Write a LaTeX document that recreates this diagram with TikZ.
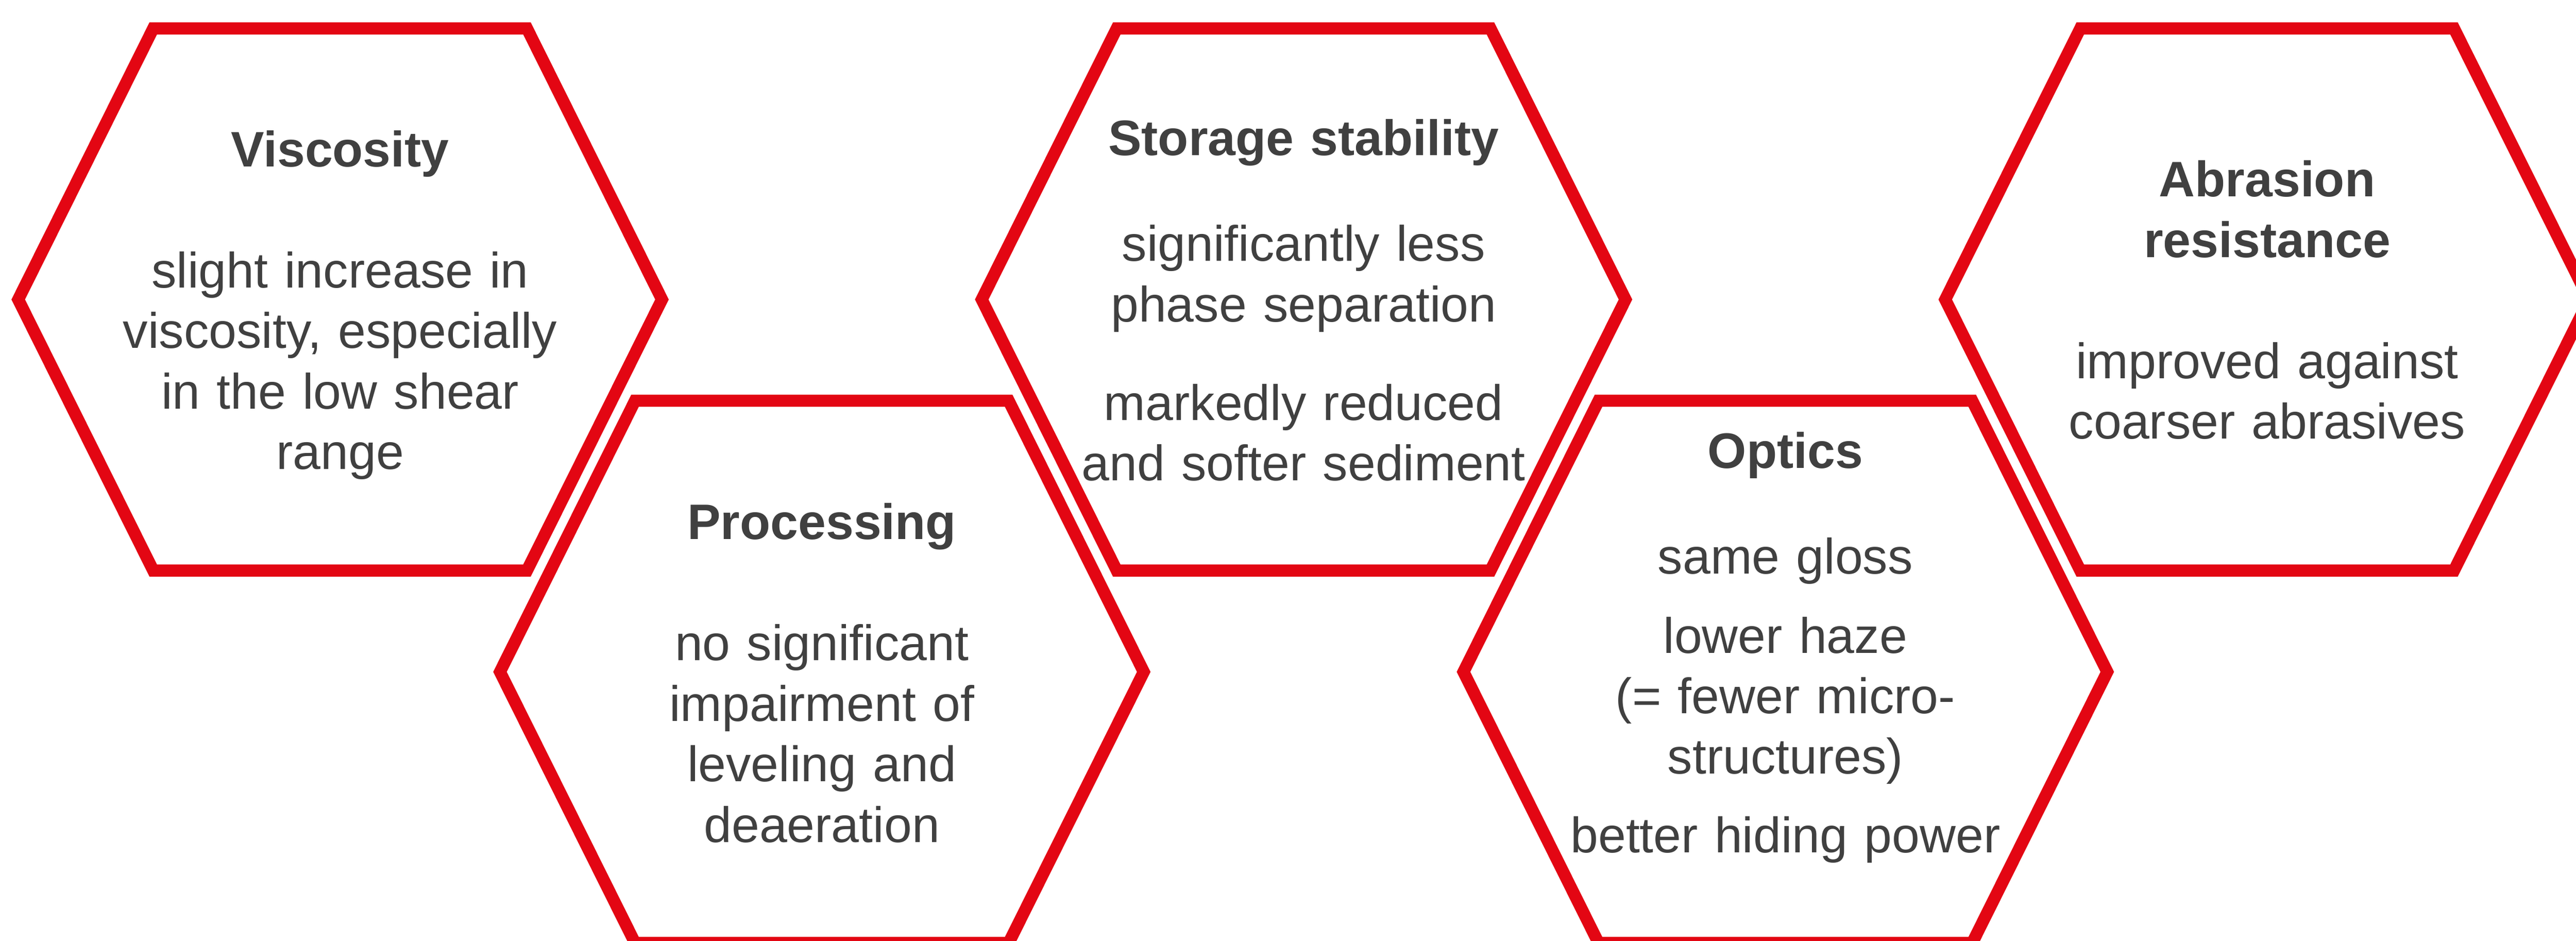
\documentclass[tikz,border=0pt]{standalone}
\usepackage{fontspec}
\setmainfont{Liberation Sans}
\usetikzlibrary{calc}
\definecolor{hexred}{RGB}{227,6,19}
\definecolor{txtgray}{RGB}{64,64,64}
\tikzset{hexline/.style={draw=hexred, line width=7.3pt, line join=miter}}
\tikzset{headtxt/.style={anchor=base, inner sep=0pt, text=txtgray, align=center, text width=12cm,
			font=\fontsize{30pt}{36.4pt}\selectfont\bfseries}}
\tikzset{bodytxt/.style={anchor=base, inner sep=0pt, text=txtgray, align=center, text width=12cm,
			font=\fontsize{30pt}{36.4pt}\selectfont}}

\begin{document}
\begin{tikzpicture}
	\useasboundingbox (0,0) rectangle (54.46,-19.88);
	
	\foreach \cx/\cy in {7.19/-6.33, 17.375/-14.20, 27.56/-6.33, 37.745/-14.20, 47.93/-6.33} {
		\draw[hexline, shift={(\cx,\cy)}] (-3.95,5.73) -- (3.95,5.73) -- (6.805,0) -- (3.95,-5.73) -- (-3.95,-5.73) -- (-6.805,0) -- cycle;
	};
	
	\node[headtxt] (viscT) at (7.19,-3.52) {Viscosity};
	\node[bodytxt] (viscB) at (7.19,-6.08) {slight increase in\\viscosity, especially\\in the low shear\\range};
	
	\node[headtxt] (procT) at (17.375,-11.40) {Processing};
	\node[bodytxt] (procB) at (17.375,-13.96) {no significant\\impairment of\\leveling and\\deaeration};
	
	\node[headtxt] (storT) at (27.56,-3.28) {Storage stability};
	\node[bodytxt] (storA) at (27.56,-5.52) {significantly less\\phase separation};
	\node[bodytxt] (storB) at (27.56,-8.88) {markedly reduced\\and softer sediment};
	
	\node[headtxt] (optT) at (37.745,-9.90) {Optics};
	\node[bodytxt] (optA) at (37.745,-12.13) {same gloss};
	\node[bodytxt] (optB) at (37.745,-13.80) {lower haze\\(= fewer micro-\\structures)};
	\node[bodytxt] (optC) at (37.745,-18.02) {better hiding power};
	
	\node[headtxt] (abrT) at (47.93,-4.16) {Abrasion\\resistance};
	\node[bodytxt] (abrB) at (47.93,-8.00) {improved against\\coarser abrasives};
	
\end{tikzpicture}
\end{document}
